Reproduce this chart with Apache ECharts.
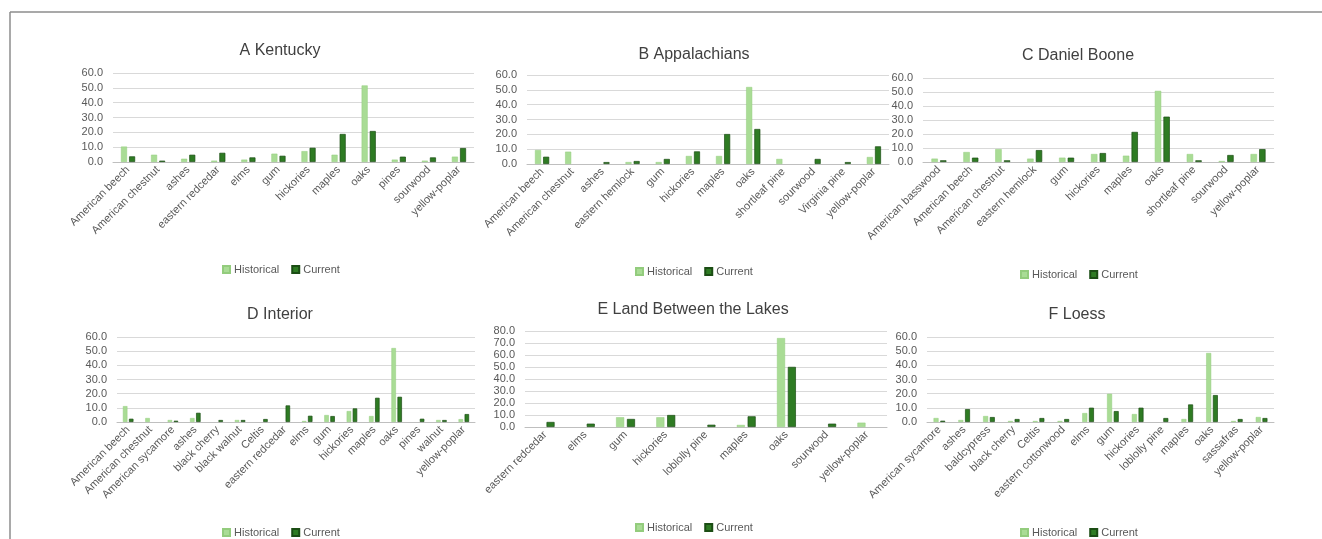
<!DOCTYPE html>
<html>
<head>
<meta charset="utf-8">
<script src="https://cdn.jsdelivr.net/npm/echarts@6/dist/echarts.min.js"></script>
<style>
html,body{margin:0;padding:0;background:#fff;}
#c{width:1322px;height:539px;}
</style>
</head>
<body>
<div id="c"></div>
<script>
// ---- Data ----
const titles = ['A Kentucky', 'B Appalachians', 'C Daniel Boone', 'D Interior', 'E Land Between the Lakes', 'F Loess'];
const seriesNames = ['Historical', 'Current'];

const catsA = ['American beech', 'American chestnut', 'ashes', 'eastern redcedar', 'elms', 'gum', 'hickories', 'maples', 'oaks', 'pines', 'sourwood', 'yellow-poplar'];
const histA = [10.4, 4.9, 2.2, 0.9, 1.6, 5.6, 7.3, 4.9, 51.6, 1.6, 0.9, 3.6];
const curA  = [3.8, 0.9, 4.9, 6.2, 3.1, 4.2, 9.6, 18.9, 20.9, 3.6, 3.1, 9.4];

const catsB = ['American beech', 'American chestnut', 'ashes', 'eastern hemlock', 'gum', 'hickories', 'maples', 'oaks', 'shortleaf pine', 'sourwood', 'Virginia pine', 'yellow-poplar'];
const histB = [9.4, 8.3, 0, 1.3, 1.3, 5.4, 5.4, 51.9, 3.4, 0, 0, 4.7];
const curB  = [4.9, 0, 1.3, 2.0, 3.4, 8.5, 20.2, 23.6, 0, 3.4, 1.3, 11.9];

const catsC = ['American basswood', 'American beech', 'American chestnut', 'eastern hemlock', 'gum', 'hickories', 'maples', 'oaks', 'shortleaf pine', 'sourwood', 'yellow-poplar'];
const histC = [2.4, 7.1, 9.2, 2.4, 3.1, 5.7, 4.5, 50.8, 5.7, 0.7, 5.7];
const curC  = [1.2, 3.1, 1.2, 8.5, 3.1, 6.4, 21.5, 32.4, 1.2, 5.0, 9.2];

const catsD = ['American beech', 'American chestnut', 'American sycamore', 'ashes', 'black cherry', 'black walnut', 'Celtis', 'eastern redcedar', 'elms', 'gum', 'hickories', 'maples', 'oaks', 'pines', 'walnut', 'yellow-poplar'];
const histD = [11.2, 2.8, 1.4, 2.8, 0, 1.4, 0, 0, 0.7, 4.9, 7.7, 4.2, 52.2, 0, 1.4, 2.0];
const curD  = [2.3, 0, 0.9, 6.5, 1.4, 1.4, 2.1, 11.7, 4.4, 4.2, 9.6, 17.1, 17.8, 2.3, 1.4, 5.6];

const catsE = ['eastern redcedar', 'elms', 'gum', 'hickories', 'loblolly pine', 'maples', 'oaks', 'sourwood', 'yellow-poplar'];
const histE = [0, 0, 8.1, 8.1, 0, 1.7, 74.1, 0, 3.6];
const curE  = [4.2, 2.8, 6.7, 10.0, 1.9, 8.9, 50.1, 2.8, 0];

const catsF = ['American sycamore', 'ashes', 'baldcypress', 'black cherry', 'Celtis', 'eastern cottonwood', 'elms', 'gum', 'hickories', 'loblolly pine', 'maples', 'oaks', 'sassafras', 'yellow-poplar'];
const histF = [2.8, 1.4, 4.2, 0.7, 0.7, 0.7, 6.3, 19.9, 5.6, 0, 2.1, 48.7, 0.7, 3.5];
const curF  = [0.9, 9.1, 3.5, 2.1, 2.8, 2.1, 10.1, 7.7, 10.1, 2.8, 12.4, 19.0, 2.1, 2.8];

const yMax = [60, 60, 60, 60, 80, 60];

// ---- Layout ----
const panels = [
  {cats: catsA, hist: histA, cur: curA, grid: {left: 113, top: 73, width: 361, height: 89}, tx: 275, ty: 38, lx: 277, ly: 259},
  {cats: catsB, hist: histB, cur: curB, grid: {left: 527, top: 75, width: 362, height: 89}, tx: 689, ty: 42, lx: 690, ly: 261},
  {cats: catsC, hist: histC, cur: curC, grid: {left: 923, top: 78, width: 351, height: 84}, tx: 1073, ty: 43, lx: 1075, ly: 264},
  {cats: catsD, hist: histD, cur: curD, grid: {left: 117, top: 337, width: 358, height: 85}, tx: 275, ty: 302, lx: 277, ly: 522},
  {cats: catsE, hist: histE, cur: curE, grid: {left: 525, top: 331, width: 362, height: 96}, tx: 688, ty: 297, lx: 690, ly: 517},
  {cats: catsF, hist: histF, cur: curF, grid: {left: 927, top: 337, width: 347, height: 85}, tx: 1072, ty: 302, lx: 1075, ly: 522}
];

const FONT = '"Liberation Sans", Arial, sans-serif';
const histColor = '#a9dc95';
const curColor = '#2e7b23';
const noZero = arr => arr.map(v => (v === 0 ? null : v));

const option = {
  animation: false,
  backgroundColor: '#ffffff',
  textStyle: {fontFamily: FONT},
  title: [], legend: [], grid: [], xAxis: [], yAxis: [], series: [],
  graphic: [
    {type: 'line', shape: {x1: 10, y1: 12, x2: 1322, y2: 12}, style: {stroke: '#8c8c8c', lineWidth: 1.5}},
    {type: 'line', shape: {x1: 10, y1: 12, x2: 10, y2: 539}, style: {stroke: '#8c8c8c', lineWidth: 1.5}}
  ]
};

panels.forEach((p, i) => {
  option.title.push({
    text: titles[i], left: p.tx, top: p.ty, textAlign: 'center',
    textStyle: {fontFamily: FONT, fontSize: 16, fontWeight: 'normal', color: '#404040'}
  });
  option.legend.push({
    data: seriesNames, left: p.lx - 60, top: p.ly,
    icon: 'rect', itemWidth: 7, itemHeight: 7, itemGap: 12,
    textStyle: {fontFamily: FONT, fontSize: 11, color: '#595959', padding: [0, 0, 0, -1]}
  });
  option.grid.push(Object.assign({containLabel: false}, p.grid));
  option.xAxis.push({
    type: 'category', gridIndex: i, data: p.cats,
    axisTick: {show: false},
    axisLine: {lineStyle: {color: '#bfbfbf', width: 1}},
    axisLabel: {interval: 0, rotate: 45, fontSize: 11, color: '#595959', fontFamily: FONT, margin: 6}
  });
  option.yAxis.push({
    type: 'value', gridIndex: i, min: 0, max: yMax[i], interval: 10,
    axisLine: {show: false}, axisTick: {show: false},
    splitLine: {lineStyle: {color: '#d9d9d9', width: 1}},
    axisLabel: {fontSize: 11, color: '#595959', fontFamily: FONT, margin: 10,
      formatter: v => v.toFixed(1)}
  });
  option.series.push({
    name: 'Historical', type: 'bar', xAxisIndex: i, yAxisIndex: i, data: noZero(p.hist),
    barWidth: '20%', barGap: '35%',
    itemStyle: {color: histColor, borderColor: '#93cc7d', borderWidth: 0.5}
  });
  option.series.push({
    name: 'Current', type: 'bar', xAxisIndex: i, yAxisIndex: i, data: noZero(p.cur),
    barWidth: '20%', barGap: '35%',
    itemStyle: {color: curColor, borderColor: '#1b4d14', borderWidth: 0.7}
  });
});

const chart = echarts.init(document.getElementById('c'), null, {renderer: 'canvas'});
chart.setOption(option);
</script>
</body>
</html>
